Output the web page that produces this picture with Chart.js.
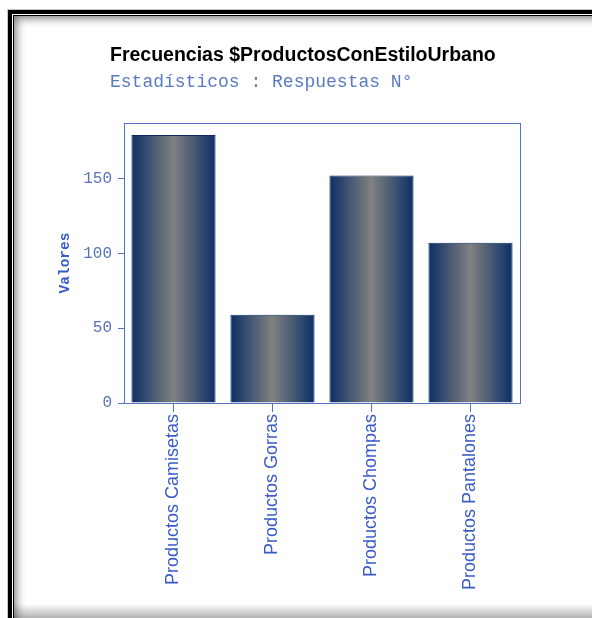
<!DOCTYPE html>
<html lang="es">
<head>
<meta charset="utf-8">
<title>Frecuencias $ProductosConEstiloUrbano</title>
<script src="https://cdn.jsdelivr.net/npm/chart.js@4.4.1/dist/chart.umd.min.js"></script>
<style>
  html, body { margin: 0; padding: 0; background: #fff; overflow: hidden; width: 592px; height: 618px; }
  .marco {
    position: absolute; left: 8px; top: 10px; width: 584px; height: 608px;
    border-top: 4px solid #000; border-left: 4px solid #000;
    box-shadow: -1px -1px 0 #c8c8c8,
      inset 1px 1px 0 #fff, inset 2px 2px 0 #000,
      inset 9px 9px 10px -5px rgba(0, 0, 0, 0.55);
  }
  .sombra-abajo {
    position: absolute; left: 14px; right: 0; bottom: 0; height: 14px;
    background: linear-gradient(to bottom, rgba(0, 0, 0, 0), rgba(0, 0, 0, 0.3));
  }
  .lienzo { position: absolute; left: 0; top: 0; width: 592px; height: 618px; }
</style>
</head>
<body>
<div class="marco"></div>
<div class="sombra-abajo"></div>
<div class="lienzo"><canvas id="grafico"></canvas></div>
<script>
const categorias = ['Productos Camisetas', 'Productos Gorras', 'Productos Chompas', 'Productos Pantalones'];
const valores = [179, 59, 152, 107];
const ticksY = [0, 50, 100, 150];
const tituloTexto = 'Frecuencias $ProductosConEstiloUrbano';
const subtituloTexto = 'Estadísticos : Respuestas N°';
const ejeYTexto = 'Valores';

const azulEje = '#5674c6';
const azulTexto = '#3b5cc4';
const anchoBarra = 0.85;

// degradado horizontal de cada barra: azul oscuro en los bordes, gris al centro
function degradadoBarra(context) {
  const { ctx, chartArea, scales } = context.chart;
  if (!chartArea || context.dataIndex === undefined) return '#0d3168';
  const centro = scales.x.getPixelForValue(context.dataIndex);
  const ancho = (scales.x.width / categorias.length) * anchoBarra;
  const g = ctx.createLinearGradient(centro - ancho / 2, 0, centro + ancho / 2, 0);
  g.addColorStop(0, '#0b2f66');
  g.addColorStop(0.5, '#818181');
  g.addColorStop(1, '#0b2f66');
  return g;
}

const textosTitulo = {
  id: 'textosTitulo',
  afterDraw(chart) {
    const { ctx, chartArea } = chart;
    ctx.save();
    ctx.textAlign = 'left';
    ctx.textBaseline = 'alphabetic';
    ctx.fillStyle = '#000';
    ctx.font = 'bold 19.5px "Liberation Sans", Arial, sans-serif';
    ctx.fillText(tituloTexto, chartArea.left - 14, 61);
    ctx.fillStyle = '#5b7bbf';
    ctx.font = '18px "Liberation Mono", "Courier New", monospace';
    ctx.fillText(subtituloTexto, chartArea.left - 14, 87);
    ctx.restore();
  }
};

// caja completa alrededor del area de trazado
const cajaGrafico = {
  id: 'cajaGrafico',
  afterDatasetsDraw(chart) {
    const { ctx, chartArea: a } = chart;
    ctx.save();
    ctx.strokeStyle = azulEje;
    ctx.lineWidth = 1;
    ctx.strokeRect(Math.round(a.left) + 0.5, Math.round(a.top) + 0.5, Math.round(a.width), Math.round(a.height));
    ctx.restore();
  }
};

new Chart(document.getElementById('grafico'), {
  type: 'bar',
  data: {
    labels: categorias,
    datasets: [{
      data: valores,
      backgroundColor: degradadoBarra,
      borderColor: '#0c2c62',
      borderWidth: 1,
      barPercentage: anchoBarra,
      categoryPercentage: 1
    }]
  },
  options: {
    responsive: true,
    maintainAspectRatio: false,
    animation: false,
    layout: { padding: { top: 123, right: 72, bottom: 0, left: 0 } },
    plugins: {
      legend: { display: false },
      tooltip: { enabled: false },
      title: { display: false }
    },
    scales: {
      x: {
        grid: { drawOnChartArea: false, offset: false, color: azulEje, tickLength: 9 },
        border: { color: azulEje },
        ticks: {
          color: azulTexto,
          font: { family: '"Liberation Sans", Arial, sans-serif', size: 18 },
          minRotation: 90,
          maxRotation: 90,
          autoSkip: false,
          padding: 2
        },
        afterFit: (s) => { s.height = 215; }
      },
      y: {
        min: 0,
        max: 187,
        afterBuildTicks: (s) => { s.ticks = ticksY.map((v) => ({ value: v })); },
        grid: { drawOnChartArea: false, color: azulEje, tickLength: 6 },
        border: { color: azulEje },
        ticks: {
          color: '#5a72b8',
          font: { family: '"Liberation Mono", "Courier New", monospace', size: 16 },
          padding: 6
        },
        title: {
          display: true,
          text: ejeYTexto,
          color: azulTexto,
          font: { family: '"Liberation Mono", "Courier New", monospace', size: 14.5, weight: 'bold' },
          padding: { top: 57, bottom: 0 }
        },
        afterFit: (s) => { s.width = 124; }
      }
    }
  },
  plugins: [textosTitulo, cajaGrafico]
});
</script>
</body>
</html>
